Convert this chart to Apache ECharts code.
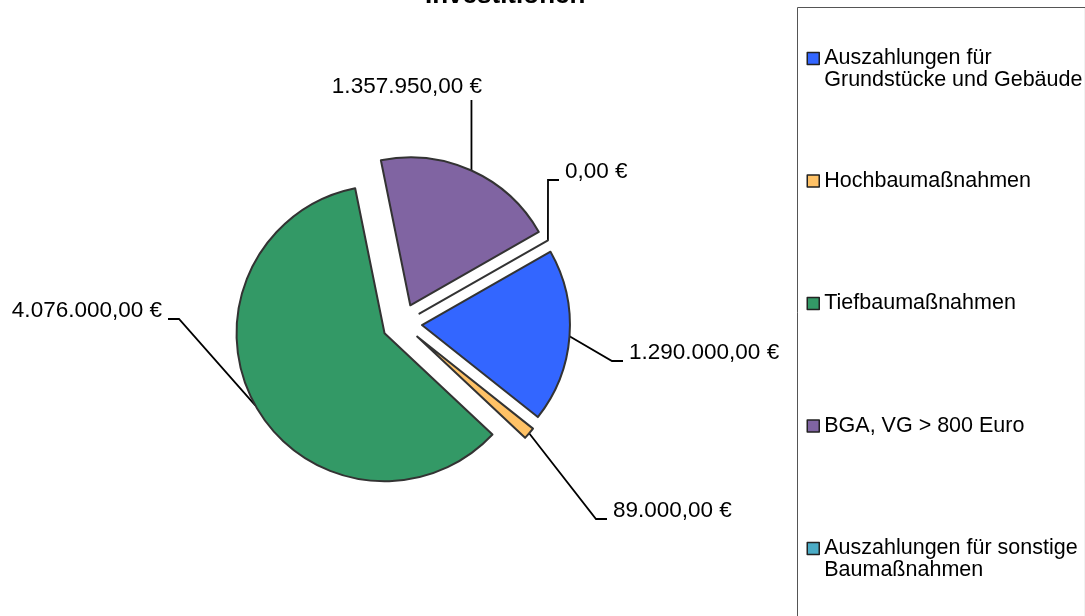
<!DOCTYPE html>
<html>
<head>
<meta charset="utf-8">
<title>Investitionen</title>
<script src="https://cdn.jsdelivr.net/npm/echarts@6/dist/echarts.min.js"></script>
<style>
  html, body { margin: 0; padding: 0; background: #fff; }
  #grafico { width: 1085px; height: 616px; }
</style>
</head>
<body>
<div id="grafico"></div>
<script>
var kategorien = ['Auszahlungen für Grundstücke und Gebäude', 'Hochbaumaßnahmen', 'Tiefbaumaßnahmen', 'BGA, VG > 800 Euro', 'Auszahlungen für sonstige Baumaßnahmen'];
// Legendentext mit Zeilenumbruch wie im Original
var legendenText = ['Auszahlungen für\nGrundstücke und Gebäude', 'Hochbaumaßnahmen', 'Tiefbaumaßnahmen', 'BGA, VG > 800 Euro', 'Auszahlungen für sonstige\nBaumaßnahmen'];
var werte = [1290000, 89000, 4076000, 1357950, 0];
var farben = ['#3366ff', '#ffc266', '#339966', '#8064a2', '#4bacc6'];

// Platz der Beschriftungen (Textanker x, y, Ausrichtung) wie im Excel-Diagramm
var labelPos = [[629, 353, 'left'], [613, 511, 'left'], [162, 311, 'right'], [482, 87, 'oben'], [565, 172, 'left']];

var mitte = [402, 323.5];
var explosion = 20;
var schrift = "'Liberation Sans', Arial, sans-serif";

function euro(v) {
    var s = v.toFixed(2).split('.');
    return s[0].replace(/\B(?=(\d{3})+(?!\d))/g, '.') + ',' + s[1] + ' €';
}

var dom = document.getElementById("grafico");
var myChart = echarts.init(dom);
option = {
    backgroundColor: '#fff',
    animation: false,
    title: {
        text: 'Investitionen',
        left: 420,
        top: -22,
        textStyle: { fontFamily: schrift, fontSize: 26, fontWeight: 'bold', color: '#000' }
    },
    legend: {
        orient: 'vertical',
        left: 797.5,
        top: 7.5,
        height: 800,
        padding: [18, 3, 60, 9],
        itemGap: 56.5,
        itemWidth: 12,
        itemHeight: 12,
        icon: 'rect',
        borderColor: '#555',
        borderWidth: 1,
        itemStyle: { borderColor: '#222', borderWidth: 1.5 },
        textStyle: { fontFamily: schrift, fontSize: 21.5, lineHeight: 22, color: '#000', width: 257 },
        formatter: function (name) {
            var t = legendenText[kategorien.indexOf(name)];
            // leere erste Zeile, damit das Symbol auf Höhe der ersten Textzeile steht
            return t.indexOf('\n') >= 0 ? '\n' + t : t;
        },
        data: kategorien.map(function (n, i) {
            var zweizeilig = legendenText[i].indexOf('\n') >= 0;
            return zweizeilig ? { name: n } : { name: n, textStyle: { padding: [22, 0, 22, 0] } };
        })
    },
    series: [
        {
            name: 'Investitionen',
            type: 'pie',
            center: mitte,
            radius: 148,
            startAngle: 29.7,
            clockwise: true,
            selectedMode: 'multiple',
            selectedOffset: explosion,
            avoidLabelOverlap: false,
            data: kategorien.map(function (n, i) {
                return { name: n, value: werte[i], selected: true, itemStyle: { color: farben[i] } };
            }),
            itemStyle: { borderColor: '#333', borderWidth: 2 },
            label: {
                show: true,
                position: 'outside',
                formatter: function (p) { return euro(p.value); },
                fontFamily: schrift,
                fontSize: 22.5,
                color: '#000'
            },
            labelLine: {
                show: true, length: 10, length2: 10,
                lineStyle: { color: '#000', width: 1.8 }
            },
            labelLayout: function (params) {
                var pos = labelPos[params.dataIndex];
                var rect = params.labelRect;
                var p0 = params.labelLinePoints && params.labelLinePoints[0];
                // Verschiebung des explodierten Segments (gilt auch für Text und Linie)
                var sx = 0, sy = 0;
                if (p0) {
                    var vx = p0[0] - mitte[0], vy = p0[1] - mitte[1];
                    var len = Math.sqrt(vx * vx + vy * vy) || 1;
                    sx = explosion * vx / len;
                    sy = explosion * vy / len;
                }
                var links = pos[2] === 'left' ? pos[0] : pos[0] - rect.width;
                var res = {
                    dx: links - rect.x - sx,
                    dy: pos[1] - (rect.y + rect.height / 2) - sy
                };
                if (!p0) return res;
                function lokal(pt) { return [pt[0] - sx, pt[1] - sy]; }
                if (pos[2] === 'oben') {
                    res.labelLinePoints = [p0, [p0[0], pos[1] + 13 - sy]];
                } else {
                    var r = pos[2] === 'left' ? -1 : 1;
                    var ende = [pos[0] + r * 6, pos[1] + 8];
                    var knick = [ende[0] + r * 11, ende[1]];
                    res.labelLinePoints = [p0, lokal(knick), lokal(ende)];
                }
                return res;
            },
            emphasis: { disabled: true }
        }
    ]
};
if (option && typeof option === "object") {
    myChart.setOption(option, true);
}
</script>
</body>
</html>
